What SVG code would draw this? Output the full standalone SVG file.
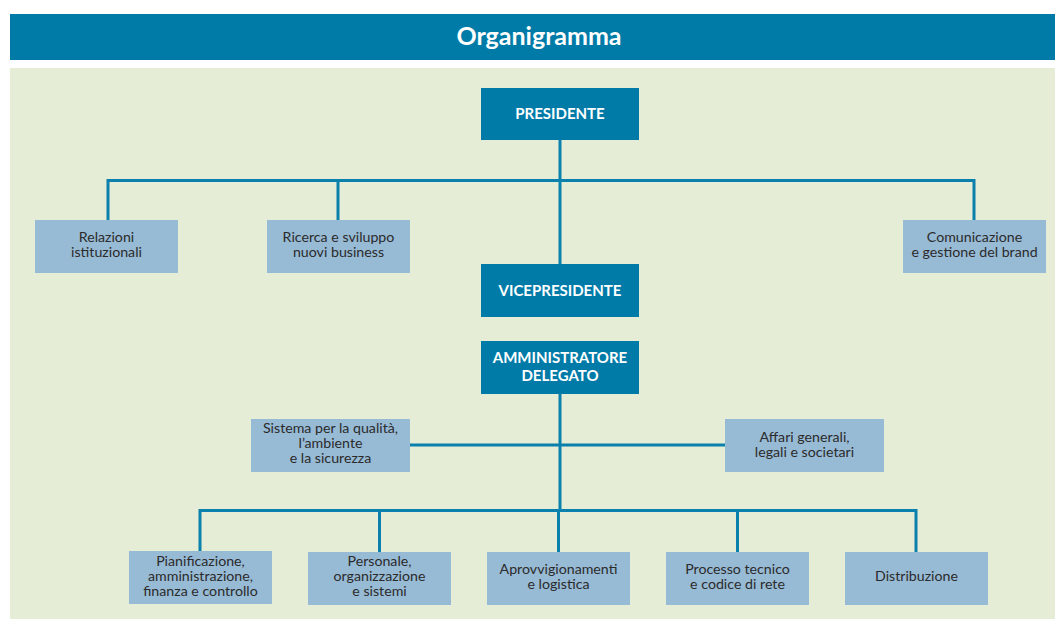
<svg xmlns="http://www.w3.org/2000/svg" width="1055" height="619" viewBox="0 0 1055 619">
<style>
.dark{fill:#007BA8}
.light{fill:#97BAD5}
.tw{font-family:Lato,"Open Sans",sans-serif;font-weight:bold;font-size:15px;fill:#fff;text-anchor:middle}
.tl{font-family:Lato,"Open Sans",sans-serif;font-size:14.2px;fill:#2b2b2b;text-anchor:middle}
.con{fill:none;stroke:#0A80AC;stroke-width:3}
</style>
<rect x="0" y="0" width="1055" height="619" fill="#fff"/>
<rect x="10" y="14" width="1045" height="46" fill="#007BA8"/>
<text x="539" y="45" font-family="Lato,'Open Sans',sans-serif" font-weight="bold" font-size="25" fill="#fff" text-anchor="middle">Organigramma</text>
<rect x="10" y="68" width="1045" height="551" fill="#E5EDD6"/>
<g id="connectors" class="con">
<path d="M560 140V264"/>
<path d="M108 220V180.5H974V220"/>
<path d="M338 180.5V220"/>
<path d="M560 394V510.5"/>
<path d="M410 445H725"/>
<path d="M200 552V510.5H916V552"/>
<path d="M379.5 510.5V552M558.5 510.5V552M737.5 510.5V552"/>
</g>
<g id="presidente"><rect class="dark" x="481" y="88" width="158" height="52"/><text class="tw" x="560" y="119">PRESIDENTE</text></g>
<g id="vicepresidente"><rect class="dark" x="481" y="264" width="158" height="53"/><text class="tw" x="560" y="296">VICEPRESIDENTE</text></g>
<g id="amministratore"><rect class="dark" x="481" y="341" width="158" height="53"/><text class="tw" x="560" y="363">AMMINISTRATORE</text><text class="tw" x="560" y="381">DELEGATO</text></g>
<g id="relazioni"><rect class="light" x="35" y="220" width="143" height="53"/><text class="tl" x="106.5" y="241.5">Relazioni</text><text class="tl" x="106.5" y="256.5">istituzionali</text></g>
<g id="ricerca"><rect class="light" x="267" y="220" width="143" height="53"/><text class="tl" x="338.5" y="241.5">Ricerca e sviluppo</text><text class="tl" x="338.5" y="256.5">nuovi business</text></g>
<g id="comunicazione"><rect class="light" x="903" y="220" width="143" height="53"/><text class="tl" x="974.5" y="241.5">Comunicazione</text><text class="tl" x="974.5" y="256.5">e gestione del brand</text></g>
<g id="sistema"><rect class="light" x="251" y="419" width="159" height="53"/><text class="tl" x="330.5" y="433">Sistema per la qualità,</text><text class="tl" x="330.5" y="448">l’ambiente</text><text class="tl" x="330.5" y="463">e la sicurezza</text></g>
<g id="affari"><rect class="light" x="725" y="419" width="159" height="53"/><text class="tl" x="804.5" y="441.5">Affari generali,</text><text class="tl" x="804.5" y="456.5">legali e societari</text></g>
<g id="pianificazione"><rect class="light" x="129" y="551" width="143" height="53"/><text class="tl" x="200.5" y="565.5">Pianificazione,</text><text class="tl" x="200.5" y="580.5">amministrazione,</text><text class="tl" x="200.5" y="595.5">finanza e controllo</text></g>
<g id="personale"><rect class="light" x="308" y="552" width="143" height="53"/><text class="tl" x="379.5" y="566">Personale,</text><text class="tl" x="379.5" y="581">organizzazione</text><text class="tl" x="379.5" y="596">e sistemi</text></g>
<g id="approvvigionamenti"><rect class="light" x="487" y="552" width="143" height="53"/><text class="tl" x="558.5" y="574">Aprovvigionamenti</text><text class="tl" x="558.5" y="589">e logistica</text></g>
<g id="processo"><rect class="light" x="666" y="552" width="143" height="53"/><text class="tl" x="737.5" y="574">Processo tecnico</text><text class="tl" x="737.5" y="589">e codice di rete</text></g>
<g id="distribuzione"><rect class="light" x="845" y="552" width="143" height="53"/><text class="tl" x="916.5" y="581">Distribuzione</text></g>
</svg>
